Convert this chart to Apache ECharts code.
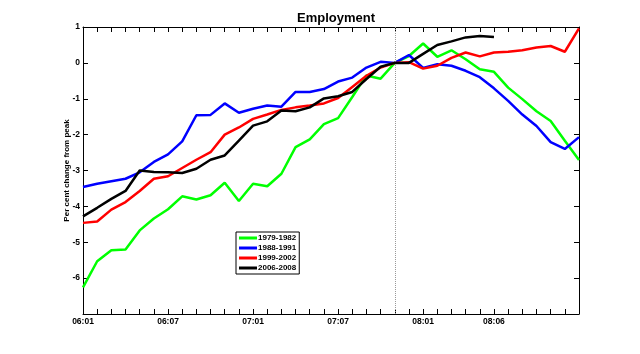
<!DOCTYPE html>
<html>
<head>
<meta charset="utf-8">
<script src="https://cdn.jsdelivr.net/npm/echarts@6/dist/echarts.min.js"></script>
<style>
  html, body { margin: 0; padding: 0; background: #fff; }
  #chart { width: 640px; height: 354px; }
</style>
</head>
<body>
<div id="chart"></div>
<script>
// months 06:01 .. 08:12
const months = [];
['06', '07', '08'].forEach(y => {
  for (let m = 1; m <= 12; m++) months.push(y + ':' + String(m).padStart(2, '0'));
});
const labelIdx = [0, 6, 12, 18, 24, 29];
const peakMonth = '07:11';

const names = ['1979-1982', '1988-1991', '1999-2002', '2006-2008'];
const colors = ['#00ff00', '#0000ff', '#ff0000', '#000000'];

const s1979 = [-6.26, -5.53, -5.22, -5.20, -4.67, -4.34, -4.08, -3.72, -3.81, -3.69,
  -3.34, -3.85, -3.37, -3.44, -3.09, -2.35, -2.13, -1.71, -1.54, -0.95,
  -0.35, -0.44, 0, 0.19, 0.54, 0.17, 0.35, 0.10, -0.18, -0.25,
  -0.69, -1.01, -1.35, -1.62, -2.17, -2.71];
const s1988 = [-3.46, -3.37, -3.30, -3.23, -3.05, -2.76, -2.55, -2.19, -1.46, -1.45,
  -1.13, -1.39, -1.28, -1.19, -1.22, -0.81, -0.81, -0.73, -0.52, -0.41,
  -0.13, 0.03, 0, 0.22, -0.14, -0.04, -0.08, -0.22, -0.40, -0.71,
  -1.06, -1.44, -1.76, -2.21, -2.40, -2.07];
const s1999 = [-4.46, -4.42, -4.09, -3.88, -3.57, -3.23, -3.16, -2.93, -2.70, -2.49,
  -2.00, -1.80, -1.56, -1.44, -1.31, -1.24, -1.19, -1.13, -0.98, -0.67,
  -0.36, -0.13, 0, 0.02, -0.16, -0.08, 0.14, 0.29, 0.18, 0.29,
  0.31, 0.35, 0.43, 0.47, 0.31, 0.96];
const s2006 = [-4.28, -4.04, -3.79, -3.57, -3.00, -3.04, -3.05, -3.07, -2.95, -2.70,
  -2.58, -2.17, -1.75, -1.63, -1.33, -1.35, -1.24, -0.99, -0.93, -0.81,
  -0.45, -0.11, 0, 0, 0.25, 0.50, 0.60, 0.71, 0.75, 0.72];

const seriesData = [s1979, s1988, s1999, s2006];

const chart = echarts.init(document.getElementById('chart'));
const font = 'Liberation Sans, Arial, sans-serif';

const tickStyle = { show: true, inside: true, length: 5, lineStyle: { color: '#000', width: 1 } };

const series = seriesData.map((d, i) => ({
  name: names[i],
  type: 'line',
  data: d,
  showSymbol: false,
  symbol: 'none',
  animation: false,
  lineStyle: { color: colors[i], width: 2.5 },
  itemStyle: { color: colors[i] },
  z: 2 + i
}));
series[0].markLine = {
  silent: true,
  symbol: 'none',
  label: { show: false },
  lineStyle: { color: '#999', type: 'dotted', width: 1 },
  data: [{ xAxis: peakMonth }]
};

const option = {
  backgroundColor: '#fff',
  animation: false,
  title: {
    text: 'Employment',
    left: 331,
    top: 7,
    textAlign: 'center',
    textStyle: { fontFamily: font, fontSize: 13, fontWeight: 'bold', color: '#000' }
  },
  legend: {
    orient: 'vertical',
    left: 236,
    top: 232,
    data: names,
    icon: 'rect',
    itemWidth: 18,
    itemHeight: 3,
    itemGap: 0,
    padding: [1, 3, 1, 3],
    borderColor: '#000',
    borderWidth: 1,
    backgroundColor: '#fff',
    textStyle: { fontFamily: font, fontSize: 8, fontWeight: 'bold', color: '#000', lineHeight: 10, padding: [0, 0, 0, -4] }
  },
  grid: { left: 83, right: 61, top: 27, bottom: 40, containLabel: false },
  xAxis: [{
    type: 'category',
    data: months,
    boundaryGap: false,
    position: 'bottom',
    axisLine: { onZero: false, lineStyle: { color: '#000', width: 1 } },
    axisTick: Object.assign({ interval: 0 }, tickStyle),
    axisLabel: {
      interval: (idx) => labelIdx.includes(idx),
      fontFamily: font, fontSize: 8.5, fontWeight: 'bold', color: '#000', margin: 3
    },
    splitLine: { show: false }
  }, {
    type: 'category',
    data: months,
    boundaryGap: false,
    position: 'top',
    axisLine: { onZero: false, lineStyle: { color: '#000', width: 1 } },
    axisTick: Object.assign({ interval: 0 }, tickStyle),
    axisLabel: { show: false },
    splitLine: { show: false }
  }],
  yAxis: [{
    type: 'value',
    min: -7,
    max: 1,
    interval: 1,
    position: 'left',
    name: 'Per cent change from peak',
    nameLocation: 'middle',
    nameRotate: 90,
    nameGap: 12,
    nameMoveOverlap: false,
    nameTextStyle: { fontFamily: font, fontSize: 8, fontWeight: 'bold', color: '#000' },
    axisLine: { show: true, onZero: false, lineStyle: { color: '#000', width: 1 } },
    axisTick: tickStyle,
    axisLabel: {
      formatter: (v) => (v === -7 ? '' : String(v)),
      fontFamily: font, fontSize: 8.5, fontWeight: 'bold', color: '#000', margin: 3
    },
    splitLine: { show: false }
  }, {
    type: 'value',
    min: -7,
    max: 1,
    interval: 1,
    position: 'right',
    axisLine: { show: true, onZero: false, lineStyle: { color: '#000', width: 1 } },
    axisTick: tickStyle,
    axisLabel: { show: false },
    splitLine: { show: false }
  }],
  series: series
};

chart.setOption(option);
</script>
</body>
</html>
